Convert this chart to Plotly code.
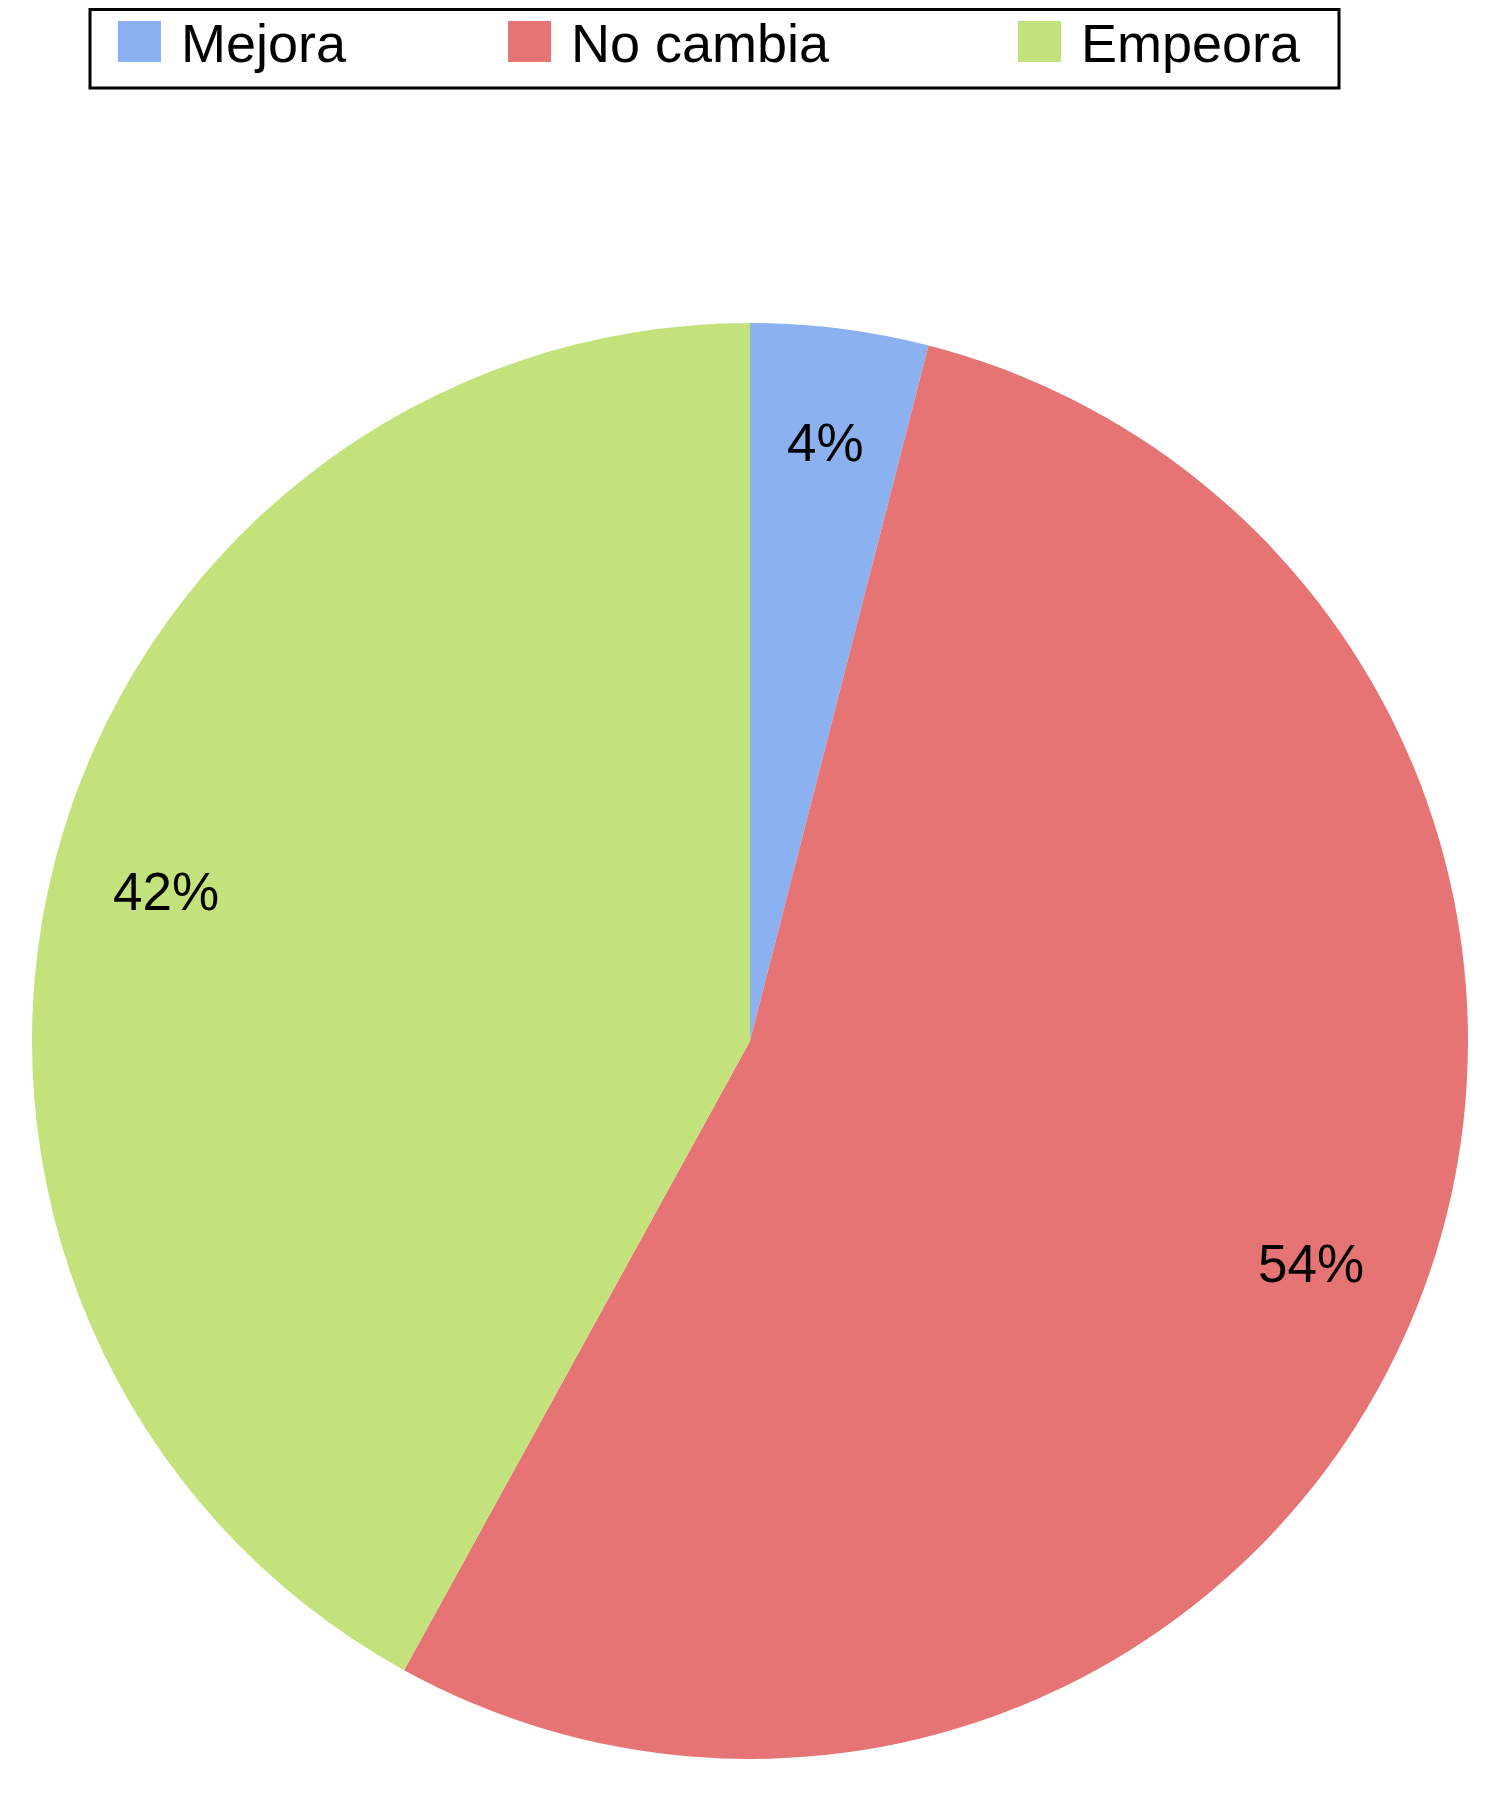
import math
import plotly.graph_objects as go

# ── Data ─────────────────────────────────────────────────────────────────────
CATEGORIES = ["Mejora", "No cambia", "Empeora"]
VALUES     = [4, 54, 42]
LABELS     = ["4%", "54%", "42%"]

# ── Theme ────────────────────────────────────────────────────────────────────
COLORS   = ["#8bb1f1", "#e67474", "#c4e27b"]
FONT     = "Liberation Sans, Arial, Helvetica, sans-serif"
W, H     = 1501, 1805

# pie geometry in figure pixels (page body adds an 8px offset)
CX, CY, R = 742, 1033, 718
LABEL_R   = 0.84

fig = go.Figure()
fig.add_trace(go.Pie(
    labels=CATEGORIES,
    values=VALUES,
    sort=False,
    direction="clockwise",
    rotation=0,
    marker=dict(colors=COLORS, line=dict(width=0)),
    textinfo="none",
    showlegend=False,
    hoverinfo="label+percent",
    domain=dict(x=[(CX - R) / W, (CX + R) / W], y=[1 - (CY + R) / H, 1 - (CY - R) / H]),
))

# slice labels at each slice's mid angle
total = sum(VALUES)
cum = 0
annotations = []
for v, lab in zip(VALUES, LABELS):
    mid = (cum + v / 2) / total * 2 * math.pi
    cum += v
    lx = CX + LABEL_R * R * math.sin(mid)
    ly = CY - LABEL_R * R * math.cos(mid)
    annotations.append(dict(
        x=lx / W, y=1 - ly / H, xref="paper", yref="paper",
        text=lab, showarrow=False,
        font=dict(family=FONT, size=53, color="black"),
        xanchor="center", yanchor="middle",
    ))

# ── Legend (drawn by hand so the swatches match the reference size) ─────────
shapes = [dict(
    type="rect", xref="paper", yref="paper",
    x0=82 / W, x1=1331 / W, y0=1 - 80 / H, y1=1 - 1.5 / H,
    line=dict(color="black", width=3), fillcolor="white",
)]
swatch_x = [110, 500, 1010]
for cat, col, sx in zip(CATEGORIES, COLORS, swatch_x):
    shapes.append(dict(
        type="rect", xref="paper", yref="paper",
        x0=sx / W, x1=(sx + 43) / W, y0=1 - 54 / H, y1=1 - 13 / H,
        line=dict(width=0), fillcolor=col,
    ))
    annotations.append(dict(
        x=(sx + 61) / W, y=1 - 35 / H, xref="paper", yref="paper",
        text=cat, showarrow=False,
        font=dict(family=FONT, size=54, color="black"),
        xanchor="left", yanchor="middle",
    ))

fig.update_layout(
    width=W, height=H,
    margin=dict(l=0, r=0, t=0, b=0),
    paper_bgcolor="white",
    plot_bgcolor="white",
    font=dict(family=FONT, color="black"),
    shapes=shapes,
    annotations=annotations,
)

fig.write_html("out.html")
